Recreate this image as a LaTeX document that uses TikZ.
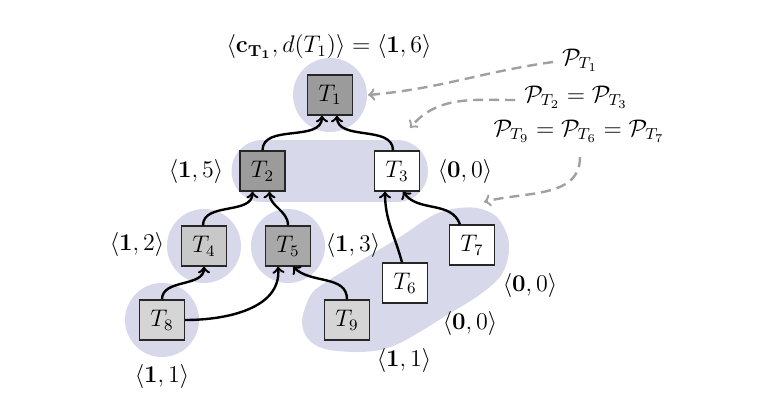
\documentclass[tikz,border=0pt]{standalone}
\usetikzlibrary{calc,backgrounds}
\definecolor{blobc}{RGB}{216,216,235}
\definecolor{dashc}{RGB}{160,160,160}
\definecolor{darkf}{RGB}{155,155,155}
\definecolor{midf}{RGB}{168,168,168}
\definecolor{lightf}{RGB}{200,200,200}
\definecolor{palef}{RGB}{213,213,213}
\tikzset{
  every node/.style={font=\fontsize{11.5}{14}\selectfont},
  tbox/.style={draw=black!85, line width=0.6pt, minimum width=22.5pt, minimum height=20pt, inner sep=0pt},
  dep/.style={->, line width=1.2pt, black},
  ptr/.style={->, line width=1.2pt, dashc, dash pattern=on 5pt off 3pt},
  blobline/.style={blobc, line cap=round},
  blobcirc/.style={fill=blobc, draw=none}
}
\begin{document}
\begin{tikzpicture}[x=0.5pt, y=0.5pt]
\useasboundingbox (0,0) rectangle (779,-411);
% nodes
\node[tbox, fill=darkf] (T1) at (330,-95) {$T_1$};
\node[tbox, fill=darkf] (T2) at (262.5,-171) {$T_2$};
\node[tbox, fill=white] (T3) at (397,-171) {$T_3$};
\node[tbox, fill=lightf] (T4) at (204,-246) {$T_4$};
\node[tbox, fill=midf] (T5) at (288,-246) {$T_5$};
\node[tbox, fill=white] (T6) at (405,-283) {$T_6$};
\node[tbox, fill=white] (T7) at (472,-245) {$T_7$};
\node[tbox, fill=palef] (T8) at (162,-320) {$T_8$};
\node[tbox, fill=palef] (T9) at (347,-320) {$T_9$};
% background blobs
\begin{scope}[on background layer]
\fill[blobcirc] (T1.center) circle[radius=37];
\draw[blobline, line width=31pt] (T2.center) -- (T3.center);
\fill[blobcirc] (T4.center) circle[radius=37];
\fill[blobcirc] (T5.center) circle[radius=37];
\fill[blobcirc] (T8.center) circle[radius=37];
\fill[blobc] plot[smooth cycle, tension=0.55] coordinates {
  (302,-321) (310,-296) (323,-284) (357,-263) (400,-237) (430,-217)
  (452,-209) (477,-208) (497,-217) (508,-238) (508,-258) (500,-277)
  (478,-296) (447,-315) (423,-330) (400,-343) (380,-350) (355,-352)
  (325,-349) (308,-339)};
\end{scope}
% labels
\node (L1) at (329,-47) {$\langle \mathbf{c}_{\mathbf{T_1}}, d(T_1)\rangle = \langle \mathbf{1}, 6\rangle$};
\node (L2) at (196,-171) {$\langle \mathbf{1}, 5\rangle$};
\node (L3) at (465,-171) {$\langle \mathbf{0}, 0\rangle$};
\node (L4) at (137,-244) {$\langle \mathbf{1}, 2\rangle$};
\node (L5) at (353,-245) {$\langle \mathbf{1}, 3\rangle$};
\node (L6) at (530,-285) {$\langle \mathbf{0}, 0\rangle$};
\node (L7) at (470,-323) {$\langle \mathbf{0}, 0\rangle$};
\node (L8) at (404,-360) {$\langle \mathbf{1}, 1\rangle$};
\node (L9) at (162,-376) {$\langle \mathbf{1}, 1\rangle$};
\node (P1) at (580,-60) {$\mathcal{P}_{T_1}$};
\node (P2) at (576,-97) {$\mathcal{P}_{T_2} = \mathcal{P}_{T_3}$};
\node (P3) at (579,-131) {$\mathcal{P}_{T_9} = \mathcal{P}_{T_6} = \mathcal{P}_{T_7}$};
% dependency edges
\draw[dep] (T2.north) to[out=90,in=-90] ($(T1.south)+(-8,0)$);
\draw[dep] ($(T3.north)+(-4,0)$) to[out=90,in=-90] ($(T1.south)+(7,0)$);
\draw[dep] ($(T4.north)+(-1,0)$) to[out=90,in=-90] ($(T2.south)+(-10,0)$);
\draw[dep] (T5.north) to[out=90,in=-90] ($(T2.south)+(7,0)$);
\draw[dep] (T8.north) to[out=90,in=-90] (T4.south);
\draw[dep] (T8.east) to[out=0,in=-85] ($(T5.south)+(-10,0)$);
\draw[dep] (T9.north) to[out=90,in=-45] ($(T5.south)+(5,0)$);
\draw[dep] ($(T6.north)+(-3,0)$) to[out=105,in=-90] ($(T3.south)+(-12,0)$);
\draw[dep] ($(T7.north)+(-12,0)$) to[out=110,in=-55] ($(T3.south)+(6,0)$);
% pointer arrows
\coordinate (A1) at ($(T1.east)+(15,0)$);
\coordinate (A2) at (410,-128);
\coordinate (A3) at (484,-202);
\draw[ptr] ($(P1.west)+(-2,-2)$) to[out=188,in=5] (A1);
\draw[ptr] ($(P2.west)+(-2,-3)$) to[out=180,in=50] (A2);
\draw[ptr] ($(P3.south)+(1,-8)$) to[out=-90,in=15] (A3);
\end{tikzpicture}
\end{document}
